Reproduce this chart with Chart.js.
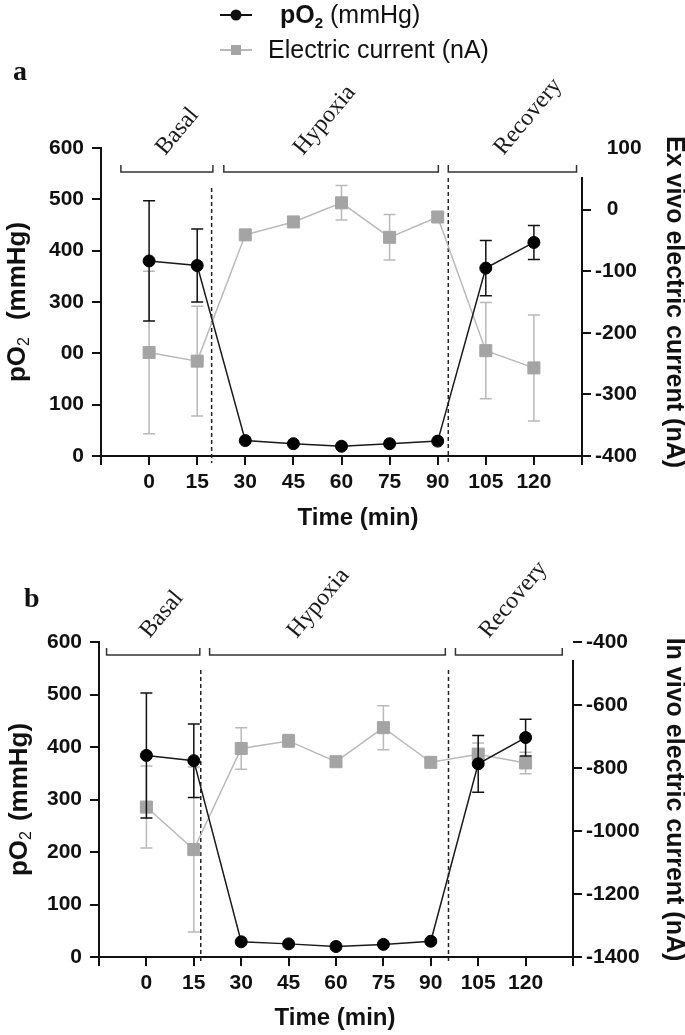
<!DOCTYPE html>
<html>
<head>
<meta charset="utf-8">
<script src="https://cdn.jsdelivr.net/npm/chart.js@4/dist/chart.umd.min.js"></script>
<style>
  html, body { margin: 0; padding: 0; background: #fff; }
  canvas { position: absolute; left: 0; }
  #chartA { top: 0; }
  #chartB { top: 540px; }
</style>
</head>
<body>
<canvas id="chartA" width="685" height="540"></canvas>
<canvas id="chartB" width="685" height="495"></canvas>
<script>
// time points (min)
const times = [0, 15, 30, 45, 60, 75, 90, 105, 120];
const timeTicks = ["", "0", "15", "30", "45", "60", "75", "90", "105", "120", ""];
const phases = ["Basal", "Hypoxia", "Recovery"];

// panel a - ex vivo
const po2A = [380, 371, 30, 24, 19, 24, 29, 366, 416];
const po2ErrA = [117, 71, 0, 0, 0, 0, 0, 54, 33];
const currentA = [-232, -246, -41, -20, 11, -45, -12, -229, -257];
const currentErrA = [132, 89, 0, 0, 28, 37, 0, 78, 86];
const po2TicksA = ["0", "100", "00", "300", "400", "500", "600"];
const currentTicksA = ["-400", "-300", "-200", "-100", "0", "100"];

// panel b - in vivo
const po2B = [384, 374, 29, 25, 20, 24, 30, 368, 418];
const po2ErrB = [119, 70, 0, 0, 0, 0, 0, 54, 35];
const currentB = [-924, -1059, -738, -714, -780, -672, -782, -756, -784];
const currentErrB = [130, 262, 66, 20, 0, 70, 0, 35, 34];
const po2TicksB = ["0", "100", "200", "300", "400", "500", "600"];
const currentTicksB = ["-1400", "-1200", "-1000", "-800", "-600", "-400"];

const SANS = "'Liberation Sans', Arial, sans-serif";
const SERIF = "'Liberation Serif', 'Times New Roman', serif";
const INK = "#111";
const GRAY_LINE = "#b9b9b9";
const GRAY_MARK = "#a4a4a4";

const errorBars = {
    id: "errorBars",
    beforeDatasetDraw(chart, args) {
        const ds = chart.data.datasets[args.index];
        if (!ds.errors) return;
        const ys = chart.scales[args.meta.yAxisID];
        const xs = chart.scales.x;
        const ctx = chart.ctx;
        ctx.save();
        ctx.strokeStyle = ds.errorColor;
        ctx.lineWidth = 1.5;
        ds.data.forEach((p, i) => {
            const e = ds.errors[i];
            if (!e) return;
            const x = xs.getPixelForValue(p.x);
            const top = ys.getPixelForValue(p.y + e);
            const bot = ys.getPixelForValue(p.y - e);
            ctx.beginPath();
            ctx.moveTo(x, top); ctx.lineTo(x, bot);
            ctx.moveTo(x - 6, top); ctx.lineTo(x + 6, top);
            ctx.moveTo(x - 6, bot); ctx.lineTo(x + 6, bot);
            ctx.stroke();
        });
        ctx.restore();
    },
};

// draws text pieces one after another, centred on 0,0
function drawPieces(ctx, pieces) {
    let total = 0;
    pieces.forEach(p => { ctx.font = p.font; p.w = ctx.measureText(p.text).width + (p.gap || 0); total += p.w; });
    let x = -total / 2;
    pieces.forEach(p => {
        ctx.font = p.font;
        ctx.fillText(p.text, x, p.dy || 0);
        x += p.w;
    });
}

const decor = {
    id: "decor",
    beforeDatasetsDraw(chart, args, o) {
        const ctx = chart.ctx;
        const xs = chart.scales.x;
        const area = chart.chartArea;
        ctx.save();

        // phase dividers
        ctx.strokeStyle = "#222";
        ctx.lineWidth = 1.5;
        ctx.setLineDash([4, 3]);
        o.dividers.forEach(d => {
            const px = xs.getPixelForValue(d.t);
            ctx.beginPath();
            ctx.moveTo(px, d.from);
            ctx.lineTo(px, area.bottom + 7);
            ctx.stroke();
        });
        ctx.setLineDash([]);

        // phase brackets + labels
        ctx.strokeStyle = "#333";
        ctx.lineWidth = 1.5;
        ctx.fillStyle = "#1a1a1a";
        ctx.font = "24px " + SERIF;
        ctx.textAlign = "left";
        ctx.textBaseline = "alphabetic";
        phases.forEach((name, i) => {
            const b = o.brackets[i];
            const x0 = xs.getPixelForValue(b.from);
            const x1 = xs.getPixelForValue(b.to);
            ctx.beginPath();
            ctx.moveTo(x0, o.bracketY - 7);
            ctx.lineTo(x0, o.bracketY);
            ctx.lineTo(x1, o.bracketY);
            ctx.lineTo(x1, o.bracketY - 7);
            ctx.stroke();

            ctx.save();
            ctx.translate(xs.getPixelForValue(b.label), o.bracketY + o.labelDy);
            ctx.rotate(-50 * Math.PI / 180);
            ctx.fillText(name, 0, 0);
            ctx.restore();
        });

        // right axis line (starts below the brackets)
        ctx.strokeStyle = INK;
        ctx.lineWidth = 2;
        ctx.beginPath();
        ctx.moveTo(area.right, o.bracketY + 5);
        ctx.lineTo(area.right, area.bottom + 1);
        ctx.stroke();
        ctx.restore();
    },
    afterDraw(chart, args, o) {
        const ctx = chart.ctx;
        const area = chart.chartArea;
        const midY = (area.top + area.bottom) / 2;
        ctx.save();
        ctx.fillStyle = INK;

        // panel letter
        ctx.font = "bold 28px " + SERIF;
        ctx.textAlign = "left";
        ctx.textBaseline = "alphabetic";
        ctx.fillText(o.letter.text, o.letter.x, o.letter.y);

        ctx.textAlign = "left";
        ctx.textBaseline = "middle";

        // left title pO2 (mmHg)
        ctx.save();
        ctx.translate(o.leftTitleX, midY);
        ctx.rotate(-Math.PI / 2);
        drawPieces(ctx, [
            { text: "pO", font: "bold 26px " + SANS },
            { text: "2", font: "16px " + SANS, dy: 7, gap: o.titleGap },
            { text: "(mmHg)", font: "bold 26px " + SANS },
        ]);
        ctx.restore();

        // right title
        ctx.save();
        ctx.translate(o.rightTitleX, midY);
        ctx.rotate(Math.PI / 2);
        drawPieces(ctx, [{ text: o.rightTitle, font: "bold 25px " + SANS }]);
        ctx.restore();

        // x title
        ctx.save();
        ctx.translate(o.xTitle.x, o.xTitle.y);
        drawPieces(ctx, [{ text: "Time (min)", font: "bold 24px " + SANS }]);
        ctx.restore();

        // legend (panel a only)
        if (o.legend) {
            ctx.lineWidth = 2;
            ctx.strokeStyle = INK;
            ctx.beginPath(); ctx.moveTo(220, 15); ctx.lineTo(252, 15); ctx.stroke();
            ctx.beginPath(); ctx.arc(236, 15, 5.5, 0, Math.PI * 2); ctx.fill();
            ctx.strokeStyle = GRAY_LINE;
            ctx.beginPath(); ctx.moveTo(220, 50); ctx.lineTo(252, 50); ctx.stroke();
            ctx.fillStyle = GRAY_MARK;
            ctx.fillRect(231, 45, 10, 10);

            ctx.fillStyle = INK;
            ctx.textBaseline = "alphabetic";
            let x = 280;
            ctx.font = "bold 25px " + SANS;
            ctx.fillText("pO", x, 23);
            x += ctx.measureText("pO").width;
            ctx.font = "bold 15px " + SANS;
            ctx.fillText("2", x, 28);
            x += ctx.measureText("2").width;
            ctx.font = "25px " + SANS;
            ctx.fillText(" (mmHg)", x, 23);
            ctx.fillText("Electric current (nA)", 268, 58);
        }
        ctx.restore();
    },
};

function tickFont() {
    return { family: SANS, size: 21, weight: "bold" };
}

function makeChart(id, p) {
    const canvas = document.getElementById(id);
    const H = canvas.height;
    const W = canvas.width;
    const axisLine = { color: INK, width: 2 };
    const tickGrid = { drawOnChartArea: false, drawTicks: true, tickLength: 9, color: INK, lineWidth: 2 };
    // panel a has no tick mark at the top of the right axis
    const rightGrid = Object.assign({}, tickGrid, {
        color: (c) => (p.hideTopRightTick && c.tick && c.tick.value === p.currentRange[1] ? "rgba(0,0,0,0)" : INK),
    });

    return new Chart(canvas.getContext("2d"), {
        type: "line",
        data: {
            datasets: [
                {
                    label: "pO2 (mmHg)",
                    data: times.map((t, i) => ({ x: t, y: p.po2[i] })),
                    errors: p.po2Err,
                    errorColor: INK,
                    yAxisID: "y",
                    borderColor: "#1a1a1a",
                    borderWidth: 1.5,
                    pointStyle: "circle",
                    pointRadius: 6,
                    pointBackgroundColor: "#000",
                    pointBorderColor: "#000",
                    pointBorderWidth: 1,
                    tension: 0,
                    order: 1,
                },
                {
                    label: "Electric current (nA)",
                    data: times.map((t, i) => ({ x: t, y: p.current[i] })),
                    errors: p.currentErr,
                    errorColor: GRAY_LINE,
                    yAxisID: "y2",
                    borderColor: GRAY_LINE,
                    borderWidth: 1.5,
                    pointStyle: "rect",
                    pointRadius: 8.5,
                    pointBackgroundColor: GRAY_MARK,
                    pointBorderColor: GRAY_MARK,
                    pointBorderWidth: 1,
                    tension: 0,
                    order: 2,
                },
            ],
        },
        options: {
            responsive: false,
            animation: false,
            layout: { padding: { top: p.area.top, left: 0, right: 0, bottom: 0 } },
            scales: {
                x: {
                    type: "linear",
                    min: -15,
                    max: 135,
                    afterBuildTicks: (s) => { s.ticks = [-15, 0, 15, 30, 45, 60, 75, 90, 105, 120, 135].map(v => ({ value: v })); },
                    ticks: {
                        autoSkip: false,
                        maxRotation: 0,
                        padding: 5,
                        color: INK,
                        font: tickFont(),
                        callback: (v, i) => timeTicks[i],
                    },
                    grid: tickGrid,
                    border: axisLine,
                    afterFit: (s) => { s.height = H - p.area.bottom; },
                },
                y: {
                    position: "left",
                    min: 0,
                    max: 600,
                    ticks: { stepSize: 100, padding: 8, color: INK, font: tickFont(), callback: (v, i) => p.po2Ticks[i] },
                    grid: tickGrid,
                    border: axisLine,
                    afterFit: (s) => { s.width = p.area.left; },
                },
                y2: {
                    position: "right",
                    min: p.currentRange[0],
                    max: p.currentRange[1],
                    ticks: {
                        stepSize: p.currentStep,
                        padding: 4,
                        color: INK,
                        font: tickFont(),
                        callback: (v, i) => (v >= 0 ? "  " : "") + p.currentTicks[i],
                    },
                    grid: rightGrid,
                    border: { display: false },
                    afterFit: (s) => { s.width = W - p.area.right; },
                },
            },
            plugins: {
                legend: { display: false },
                tooltip: { enabled: false },
                decor: p.decor,
            },
        },
        plugins: [errorBars, decor],
    });
}

makeChart("chartA", {
    po2: po2A, po2Err: po2ErrA, current: currentA, currentErr: currentErrA,
    po2Ticks: po2TicksA, currentTicks: currentTicksA,
    currentRange: [-400, 100], currentStep: 100, hideTopRightTick: true,
    area: { top: 148, left: 101, right: 582, bottom: 456 },
    decor: {
        letter: { text: "a", x: 13, y: 80 },
        legend: true,
        bracketY: 172,
        labelDy: -16,
        brackets: [
            { from: -8.8, to: 19.9, label: 5.0 },
            { from: 23.3, to: 90.2, label: 48 },
            { from: 93.3, to: 133.3, label: 110.5 },
        ],
        dividers: [{ t: 19.5, from: 188 }, { t: 93.3, from: 178 }],
        leftTitleX: 18,
        titleGap: 17,
        rightTitleX: 674,
        rightTitle: "Ex vivo electric current (nA)",
        xTitle: { x: 358, y: 518 },
    },
});

makeChart("chartB", {
    po2: po2B, po2Err: po2ErrB, current: currentB, currentErr: currentErrB,
    po2Ticks: po2TicksB, currentTicks: currentTicksB,
    currentRange: [-1400, -400], currentStep: 200, hideTopRightTick: false,
    area: { top: 102, left: 99, right: 573, bottom: 417 },
    decor: {
        letter: { text: "b", x: 24, y: 67 },
        legend: false,
        bracketY: 115,
        labelDy: -16,
        brackets: [
            { from: -12.6, to: 16.9, label: 1.0 },
            { from: 20.0, to: 94.6, label: 47.6 },
            { from: 97.8, to: 131.6, label: 108.3 },
        ],
        dividers: [{ t: 17.2, from: 130 }, { t: 95.6, from: 130 }],
        leftTitleX: 20,
        titleGap: 10,
        rightTitleX: 674,
        rightTitle: "In vivo electric current (nA)",
        xTitle: { x: 335, y: 478 },
    },
});
</script>
</body>
</html>
